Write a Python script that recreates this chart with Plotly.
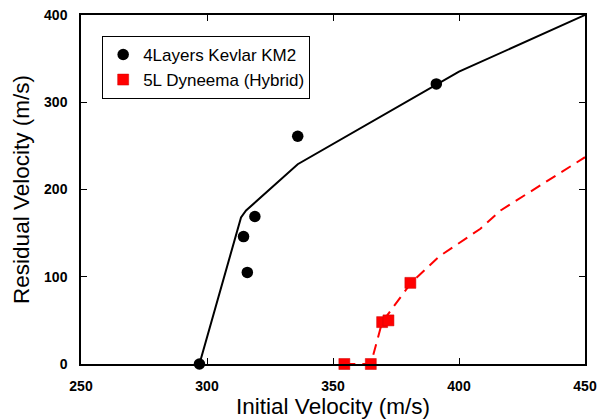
import plotly.graph_objects as go

# Kevlar data
kevlar_x = [297, 314.5, 316, 319, 336, 391]
kevlar_y = [0, 146, 105, 169, 261, 321]
# Kevlar fit line
kevlar_fit_x = [297, 313.5, 315.5, 336, 400, 450]
kevlar_fit_y = [0, 168, 176, 229, 335, 400]

# Dyneema data
dyneema_x = [354.5, 365, 369.5, 372, 380.7]
dyneema_y = [0, 0, 48, 50, 93]
# Dyneema fit line
dyneema_fit_x = [354.5, 365, 369.5, 381, 392, 400.5, 408.5, 416.5, 450]
dyneema_fit_y = [0, 0, 48, 93, 123, 140, 155, 176, 237]

x_ticks = [250, 300, 350, 400, 450]
y_ticks = [0, 100, 200, 300, 400]

fig = go.Figure()
fig.add_trace(go.Scatter(x=kevlar_fit_x, y=kevlar_fit_y, mode="lines",
                         line=dict(color="black", width=2), showlegend=False,
                         cliponaxis=False))
fig.add_trace(go.Scatter(x=dyneema_fit_x, y=dyneema_fit_y, mode="lines",
                         line=dict(color="#ff0000", width=2, dash="11px,7px"),
                         showlegend=False, cliponaxis=False))
fig.add_trace(go.Scatter(x=kevlar_x, y=kevlar_y, mode="markers",
                         name="4Layers Kevlar KM2", legendgroup="a",
                         marker=dict(symbol="circle", size=11.5, color="black"),
                         cliponaxis=False))
fig.add_trace(go.Scatter(x=dyneema_x, y=dyneema_y, mode="markers",
                         name="5L Dyneema (Hybrid)", legendgroup="b",
                         marker=dict(symbol="square", size=11, color="#ff0000",
                                     line=dict(color="#cc0000", width=0.5)),
                         cliponaxis=False))

axis_common = dict(
    showline=True, linecolor="black", linewidth=1.5, mirror="ticks",
    ticks="inside", ticklen=6, tickwidth=1, tickcolor="black",
    showgrid=False, zeroline=False, automargin=False, ticklabeloverflow="allow",
    tickfont=dict(family="Liberation Sans, Arial", size=14, color="black", weight="bold"),
)

fig.update_layout(
    width=600, height=420,
    margin=dict(l=81, r=15, t=15, b=56),
    plot_bgcolor="white", paper_bgcolor="white",
    font=dict(family="Liberation Sans, Arial", color="black"),
    xaxis=dict(range=[250, 450], tickvals=x_ticks, ticklabelstandoff=8,
               title=dict(text="Initial Velocity (m/s)", font=dict(size=22.5), standoff=4),
               **axis_common),
    yaxis=dict(range=[0, 400], tickvals=y_ticks, ticklabelstandoff=9,
               title=dict(text="Residual Velocity (m/s)", font=dict(size=22.5), standoff=8),
               **axis_common),
    legend=dict(x=0.042, y=0.94, xanchor="left", yanchor="top",
                bordercolor="black", borderwidth=1, bgcolor="white",
                font=dict(size=17, family="Liberation Sans, Arial"),
                itemwidth=30, traceorder="grouped", tracegroupgap=0),
)

fig.write_html("out.html",
               config={"displayModeBar": False},
               post_script="document.body.style.margin='0';document.body.style.overflow='hidden';")
